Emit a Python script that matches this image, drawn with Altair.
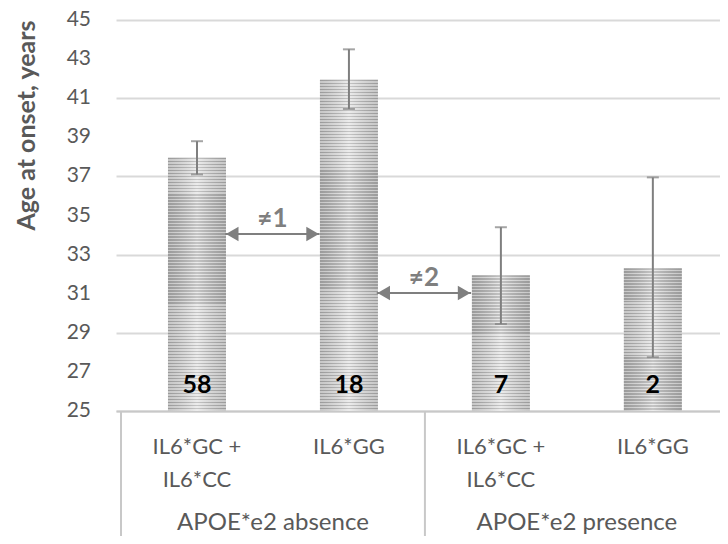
import altair as alt
import pandas as pd

# ---- data ----
genotypes = ["IL6*GC +\nIL6*CC", "IL6*GG", "IL6*GC +\nIL6*CC", "IL6*GG"]
positions = [0.5, 1.5, 2.5, 3.5]
groups = ["APOE*e2 absence", "APOE*e2 presence"]
group_positions = [1, 3]
separator_positions = [0, 2, 4]
mean_age = [37.95, 41.95, 31.95, 32.3]
err_low = [37.1, 40.45, 29.45, 27.75]
err_high = [38.8, 43.5, 34.4, 36.95]
counts = ["58", "18", "7", "2"]
y_ticks = [25, 27, 29, 31, 33, 35, 37, 39, 41, 43, 45]
arrow_labels = ["≠1", "≠2"]
arrow_start = [0.686, 1.683]
arrow_end = [1.307, 2.304]
arrow_y = [34.05, 31.04]

FONT = "Lato"
GREY_TXT = "#595959"
GREY_LINE = "#7f7f7f"
PLOT_W, PLOT_H = 604, 391
Y_MIN, Y_MAX = 25, 45

bars_df = pd.DataFrame({
    "pos": positions, "mean": mean_age, "lo": err_low, "hi": err_high,
    "n": counts, "geno": genotypes, "base": [Y_MIN] * 4,
})
grp_df = pd.DataFrame({"gpos": group_positions, "group": groups})
sep_df = pd.DataFrame({"sep": separator_positions})
tick_df = pd.DataFrame({"t": y_ticks})
arr_df = pd.DataFrame({
    "label": arrow_labels, "x0": arrow_start, "x1": arrow_end, "y": arrow_y,
})
arr_df["xm"] = (arr_df["x0"] + arr_df["x1"]) / 2

xs = alt.Scale(domain=[0, 3.909], nice=False, zero=False)
ys = alt.Scale(domain=[Y_MIN, Y_MAX], nice=False, zero=False)

base = alt.Chart(bars_df)


def striped_fill(n_stripes):
    stops = []
    for k in range(n_stripes):
        a = k / n_stripes
        m = (k + 0.5) / n_stripes
        b = (k + 1) / n_stripes
        stops += [
            alt.GradientStop(offset=a, color="#a6a6a6"),
            alt.GradientStop(offset=m, color="#a6a6a6"),
            alt.GradientStop(offset=m, color="#e2e2e2"),
            alt.GradientStop(offset=b, color="#e2e2e2"),
        ]
    return alt.Gradient(gradient="linear", x1=0, x2=0, y1=0, y2=1, stops=stops)


y_axis = alt.Axis(
    values=y_ticks, domain=False, ticks=False, grid=True, labels=False,
    gridColor="#d9d9d9", gridWidth=2,
    title="Age at onset, years", titleFont=FONT, titleFontSize=25,
    titleFontWeight="bold", titleColor=GREY_TXT, titleAnchor="end",
    titlePadding=77)
x_axis = alt.Axis(labels=False, ticks=False, grid=False, domain=True,
                  domainColor="#c8c8c8", domainWidth=2, title=None)

# axis-carrying layer (invisible bars) drawn first so grid sits below bars
axis_layer = base.mark_bar(size=58, opacity=0).encode(
    x=alt.X("pos:Q", scale=xs, axis=x_axis),
    y=alt.Y("mean:Q", scale=ys, axis=y_axis),
    y2="base:Q",
)

# y tick labels drawn as text through the y scale
tick_labels = alt.Chart(tick_df).mark_text(
    font=FONT, fontSize=21, color=GREY_TXT, align="right", baseline="middle").encode(
    x=alt.value(-25), y=alt.Y("t:Q", scale=ys), text=alt.Text("t:Q"))

bar_layers = []
for p, m in zip(positions, mean_age):
    px_height = (m - Y_MIN) * PLOT_H / (Y_MAX - Y_MIN)
    n_str = max(1, round(px_height / 3))
    layer = base.transform_filter(alt.datum.pos == p).mark_bar(
        size=58, color=striped_fill(n_str)).encode(
        x=alt.X("pos:Q", scale=xs),
        y=alt.Y("mean:Q", scale=ys),
        y2="base:Q",
    )
    bar_layers.append(layer)

shine = base.mark_bar(size=58, color=alt.Gradient(
    gradient="linear", x1=0, x2=1, y1=0, y2=0,
    stops=[
        alt.GradientStop(offset=0, color="rgba(120,120,120,0.25)"),
        alt.GradientStop(offset=0.5, color="rgba(255,255,255,0.35)"),
        alt.GradientStop(offset=1, color="rgba(120,120,120,0.25)"),
    ])).encode(x=alt.X("pos:Q", scale=xs), y=alt.Y("mean:Q", scale=ys), y2="base:Q")

err = base.mark_rule(color=GREY_LINE, strokeWidth=2).encode(
    x="pos:Q", y="lo:Q", y2="hi:Q")
cap_lo = base.mark_tick(color=GREY_LINE, size=12, thickness=2, orient="horizontal").encode(
    x="pos:Q", y="lo:Q")
cap_hi = base.mark_tick(color=GREY_LINE, size=12, thickness=2, orient="horizontal").encode(
    x="pos:Q", y="hi:Q")

n_text = base.mark_text(font=FONT, fontSize=25, fontWeight="bold", color="black",
                        baseline="alphabetic", dy=-18).encode(
    x="pos:Q", y="base:Q", text="n:N")

geno_text = base.mark_text(font=FONT, fontSize=22, color=GREY_TXT, baseline="alphabetic",
                           lineBreak="\n", lineHeight=33).encode(
    x="pos:Q", y=alt.value(434), text="geno:N")

group_text = alt.Chart(grp_df).mark_text(font=FONT, fontSize=24, color=GREY_TXT,
                                         baseline="alphabetic").encode(
    x=alt.X("gpos:Q", scale=xs), y=alt.value(510), text="group:N")

seps = alt.Chart(sep_df).mark_rule(color="#c8c8c8", strokeWidth=2).encode(
    x=alt.X("sep:Q", scale=xs), y=alt.value(PLOT_H), y2=alt.value(540))

arr_base = alt.Chart(arr_df)
arr_line = arr_base.mark_rule(color=GREY_LINE, strokeWidth=2).encode(
    x=alt.X("x0:Q", scale=xs), x2="x1:Q", y=alt.Y("y:Q", scale=ys))
head_l = arr_base.mark_point(shape="triangle-left", filled=True, size=210, opacity=1,
                             color=GREY_LINE, xOffset=7).encode(
    x=alt.X("x0:Q", scale=xs), y=alt.Y("y:Q", scale=ys))
head_r = arr_base.mark_point(shape="triangle-right", filled=True, size=210, opacity=1,
                             color=GREY_LINE, xOffset=-7).encode(
    x=alt.X("x1:Q", scale=xs), y=alt.Y("y:Q", scale=ys))
arr_text = arr_base.mark_text(font=FONT, fontSize=26, fontWeight="bold", color=GREY_LINE,
                              baseline="middle", dy=-15).encode(
    x=alt.X("xm:Q", scale=xs), y=alt.Y("y:Q", scale=ys), text="label:N")

chart = alt.layer(
    axis_layer, tick_labels, *bar_layers, shine, seps, err, cap_lo, cap_hi, n_text,
    geno_text, group_text, arr_line, head_l, head_r, arr_text,
).properties(
    width=PLOT_W, height=PLOT_H,
    padding={"left": 108, "top": 12, "right": 0, "bottom": 125},
    autosize=alt.AutoSizeParams(type="none"),
).configure_view(stroke=None)

chart.save("out.html", embed_options={"renderer": "svg", "actions": False})
